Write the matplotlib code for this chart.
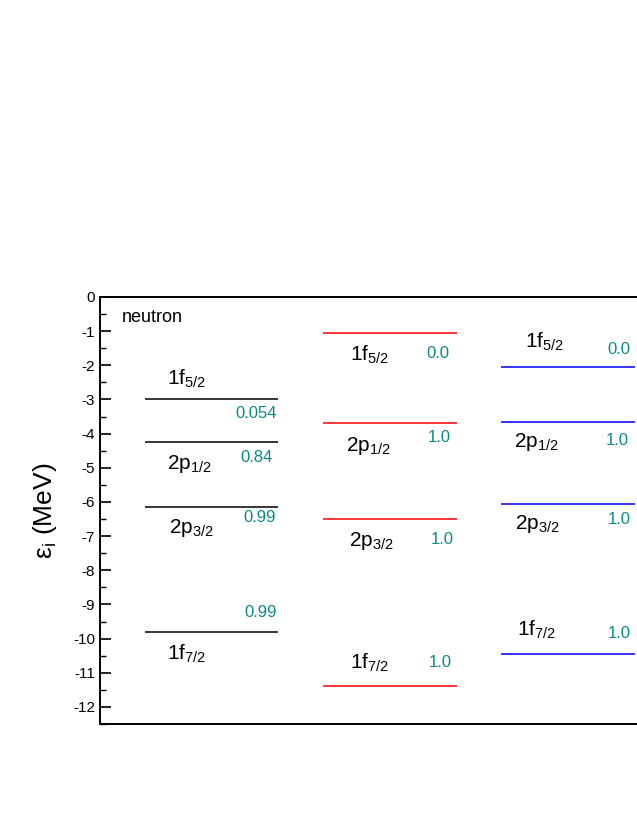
import matplotlib
matplotlib.use("Agg")
import matplotlib.pyplot as plt
from matplotlib.ticker import MultipleLocator

plt.rcParams["font.family"] = "Liberation Sans"

states = ["1f_{5/2}", "2p_{1/2}", "2p_{3/2}", "1f_{7/2}"]
black_E = [-3.0, -4.25, -6.15, -9.8]
black_occ = ["0.054", "0.84", "0.99", "0.99"]
red_E = [-1.05, -3.7, -6.5, -11.4]
red_occ = ["0.0", "1.0", "1.0", "1.0"]
blue_E = [-2.05, -3.65, -6.05, -10.45]
blue_occ = ["0.0", "1.0", "1.0", "1.0"]
yticks = list(range(0, -13, -1))

fig = plt.figure(figsize=(6.37, 8.24), dpi=100)
ax = fig.add_axes([100/637, 100/824, 1 - 100/637 + 0.002, 427/824])
ax.set_xlim(0, 537)
ax.set_ylim(-12.5, 0)

teal = "#0a8a84"
cols = [
    (black_E, black_occ, "black", 45, 178,
     [(0.6, 67), (-0.65, 67), (-0.6, 69), (-0.65, 67)],
     [(-0.4, 176), (-0.45, 172), (-0.3, 175), (0.55, 176)]),
    (red_E, red_occ, "red", 222, 356,
     [(-0.65, 249), (-0.65, 245), (-0.65, 248), (0.7, 249)],
     [(-0.6, 349), (-0.4, 350), (-0.6, 353), (0.7, 351)]),
    (blue_E, blue_occ, "blue", 400, 534,
     [(0.75, 424), (-0.6, 413), (-0.6, 414), (0.7, 416)],
     [(0.5, 529), (-0.55, 527), (-0.45, 529), (0.6, 529)]),
]
for E, occ, c, x0, x1, lab, num in cols:
    ax.hlines(E, x0, x1, color=c, lw=1.1)
    for e, s, o, (dy, lx), (ny, nx) in zip(E, states, occ, lab, num):
        ax.text(lx, e + dy, "$\\mathregular{" + s + "}$", fontsize=15, ha="left", va="center")
        ax.text(nx, e + ny, o, fontsize=12, color=teal, ha="right", va="center")

ax.text(22, -0.6, "neutron", fontsize=13, va="center")

ax.set_yticks(yticks)
ax.set_yticklabels([str(t) for t in yticks], fontsize=11)
ax.yaxis.set_minor_locator(MultipleLocator(0.5))
ax.tick_params(axis="y", which="major", direction="in", length=8, width=1.2)
ax.tick_params(axis="y", which="minor", direction="in", length=4, width=1)
ax.set_xticks([])
ax.spines["right"].set_visible(False)
for s in ["left", "top", "bottom"]:
    ax.spines[s].set_linewidth(1.4)
ax.set_ylabel("$\\mathregular{\\epsilon_i}$ (MeV)", fontsize=19, labelpad=10)

fig.savefig("out.png", dpi=100)
